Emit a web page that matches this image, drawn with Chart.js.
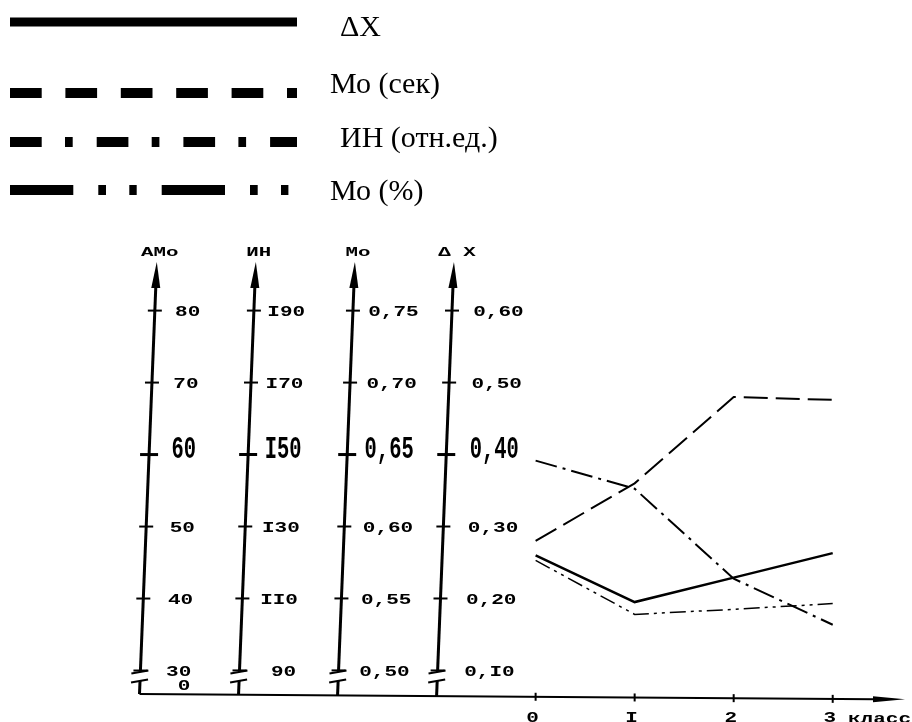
<!DOCTYPE html>
<html>
<head>
<meta charset="utf-8">
<script src="https://cdn.jsdelivr.net/npm/chart.js@4.4.1/dist/chart.umd.min.js"></script>
<style>
	html, body { margin: 0; padding: 0; background: #fff; }
	#wrap { width: 912px; height: 722px; position: relative; }
</style>
</head>
<body>
<div id="wrap"><canvas id="chart"></canvas></div>
<script>
// school classes on the horizontal axis
const classes = [0, 1, 2, 3]
const classLabels = ["0", "I", "2", "3"]

// series
const deltaX = [0.26, 0.195, 0.229, 0.263]      // ΔX
const moSec = [0.59, 0.63, 0.69, 0.688]         // Мо (сек)
const inIndex = [148.3, 140.5, 115.5, 102.7]    // ИН (отн.ед.)
const amoPct = [45.3, 37.8, 38.5, 39.3]         // Мо (%)  -> АМо axis

// the four vertical axes
const amoTicks = [30, 40, 50, 60, 70, 80]
const amoTickLabels = ["30", "40", "50", "60", "70", "80"]
const inTicks = [90, 110, 130, 150, 170, 190]
const inTickLabels = ["90", "II0", "I30", "I50", "I70", "I90"]
const moTicks = [0.50, 0.55, 0.60, 0.65, 0.70, 0.75]
const moTickLabels = ["0,50", "0,55", "0,60", "0,65", "0,70", "0,75"]
const dxTicks = [0.1, 0.2, 0.3, 0.4, 0.5, 0.6]
const dxTickLabels = ["0,I0", "0,20", "0,30", "0,40", "0,50", "0,60"]

const axes = [
	{ id: "yAmo", title: "АМо", at: -4, ticks: amoTicks, labels: amoTickLabels, align: "left", off: 26 },
	{ id: "yIn", title: "ИН", at: -3, ticks: inTicks, labels: inTickLabels, align: "right", off: 57 },
	{ id: "yMo", title: "Мо", at: -2, ticks: moTicks, labels: moTickLabels, align: "left", off: 21 },
	{ id: "yDx", title: "Δ X", at: -1, ticks: dxTicks, labels: dxTickLabels, align: "left", off: 27 },
]

const MONO = '"Liberation Mono", "DejaVu Sans Mono", monospace'
const SLANT = 0.04

const pts = (vals) => classes.map((c, i) => ({ x: c, y: vals[i] }))

function say(ctx, str, x, y, font, sx, align, baseline) {
	ctx.save()
	ctx.font = font
	ctx.textAlign = align || "left"
	ctx.textBaseline = baseline || "middle"
	ctx.translate(x, y)
	ctx.scale(sx, 1)
	ctx.fillText(str, 0, 0)
	ctx.restore()
}

function seg(ctx, x1, y1, x2, y2, w) {
	ctx.lineWidth = w
	ctx.beginPath()
	ctx.moveTo(x1, y1)
	ctx.lineTo(x2, y2)
	ctx.stroke()
}

const sketch = {
	id: "sketch",
	afterDraw(chart) {
		const ctx = chart.ctx
		const xs = chart.scales.x
		const area = chart.chartArea
		const baseY = (x) => area.bottom - 1 + (x - area.left) * 0.007

		ctx.save()
		ctx.strokeStyle = "#000"
		ctx.fillStyle = "#000"
		ctx.lineCap = "butt"

		// legend
		const rowsY = [22, 93, 142, 190]
		const rowsW = [9, 10, 10, 10]
		const textX = [340, 330, 340, 330]
		const textY = [36, 93, 147, 200]
		chart.data.datasets.forEach((ds, i) => {
			ctx.setLineDash(ds.legendDash)
			seg(ctx, 10, rowsY[i], 297, rowsY[i], rowsW[i])
			ctx.setLineDash([])
			say(ctx, ds.label, textX[i], textY[i], '30px "Liberation Serif", serif', 1, "left", "alphabetic")
		})

		// vertical axes
		const topY = 262
		axes.forEach((a) => {
			const sc = chart.scales[a.id]
			const bx = xs.getPixelForValue(a.at)
			const by = baseY(bx)
			const ax = (y) => bx + SLANT * (by - y)

			seg(ctx, ax(672), 672, ax(topY + 24), topY + 24, 3)
			seg(ctx, ax(681), 681, ax(by), by, 3)
			seg(ctx, ax(672) - 9, 673.5, ax(672) + 8, 670.5, 2)
			seg(ctx, ax(681) - 9, 682.5, ax(681) + 8, 679.5, 2)

			ctx.beginPath()
			ctx.moveTo(ax(topY), topY)
			ctx.lineTo(ax(topY + 26) - 4.5, topY + 26)
			ctx.lineTo(ax(topY + 26) + 4.5, topY + 26)
			ctx.closePath()
			ctx.fill()

			say(ctx, a.title, ax(topY) + 3, 253, "bold 13px " + MONO, 1.6, "center")

			a.ticks.forEach((v, k) => {
				const y = sc.getPixelForValue(v)
				const big = k === 3
				const h = big ? 9 : 7
				seg(ctx, ax(y) - h, y, ax(y) + h, y, big ? 3 : 2)
				const lx = bx + a.off + 0.025 * (by - y)
				if (big) say(ctx, a.labels[k], lx, y - 4, "bold 31px " + MONO, 0.66, a.align)
				else say(ctx, a.labels[k], lx, y + 2, "bold 15px " + MONO, 1.4, a.align)
			})
		})
		say(ctx, "0", 184, 686, "bold 15px " + MONO, 1.4, "center")

		// horizontal axis
		const tipX = 905
		seg(ctx, area.left, baseY(area.left), tipX - 30, baseY(tipX - 30), 2)
		ctx.beginPath()
		ctx.moveTo(tipX, baseY(tipX))
		ctx.lineTo(tipX - 32, baseY(tipX - 32) - 3)
		ctx.lineTo(tipX - 32, baseY(tipX - 32) + 3)
		ctx.closePath()
		ctx.fill()
		classes.forEach((c, i) => {
			const x = xs.getPixelForValue(c)
			seg(ctx, x, baseY(x) - 4, x, baseY(x) + 4, 2)
			say(ctx, classLabels[i], x - 3, 718, "bold 15px " + MONO, 1.4, "center")
		})
		say(ctx, "класс", 848, 719, "bold 15px " + MONO, 1.4, "left")

		ctx.restore()
	},
}

const config = {
	type: "line",
	data: {
		datasets: [
			{ label: "ΔX", data: pts(deltaX), yAxisID: "yDx", borderWidth: 2.5, borderDash: [], legendDash: [] },
			{ label: "Мо (сек)", data: pts(moSec), yAxisID: "yMo", borderWidth: 2, borderDash: [24, 8], legendDash: [31.7, 23.7] },
			{ label: "ИН (отн.ед.)", data: pts(inIndex), yAxisID: "yIn", borderWidth: 2, borderDash: [22, 6, 3, 6], legendDash: [31.7, 23.3, 7.7, 24] },
			{ label: "Мо (%)", data: pts(amoPct), yAxisID: "yAmo", borderWidth: 1.5, borderDash: [16, 5, 3, 5, 3, 5], legendDash: [63.3, 25, 7.7, 23.3, 7.4, 25] },
		],
	},
	options: {
		responsive: true,
		maintainAspectRatio: false,
		animation: false,
		layout: { padding: { left: 139.5, right: 7, top: 262, bottom: 27 } },
		plugins: { legend: { display: false }, tooltip: { enabled: false } },
		elements: {
			point: { radius: 0 },
			line: { tension: 0, borderColor: "#000", fill: false },
		},
		scales: {
			x: { type: "linear", min: -4, max: 3.73, display: false },
			yAmo: { type: "linear", min: 26.6, max: 86.75, display: false },
			yIn: { type: "linear", min: 83.17, max: 203.5, display: false },
			yMo: { type: "linear", min: 0.4829, max: 0.7838, display: false },
			yDx: { type: "linear", min: 0.0659, max: 0.6675, display: false },
		},
	},
	plugins: [sketch],
}

new Chart(document.getElementById("chart"), config)
</script>
</body>
</html>
